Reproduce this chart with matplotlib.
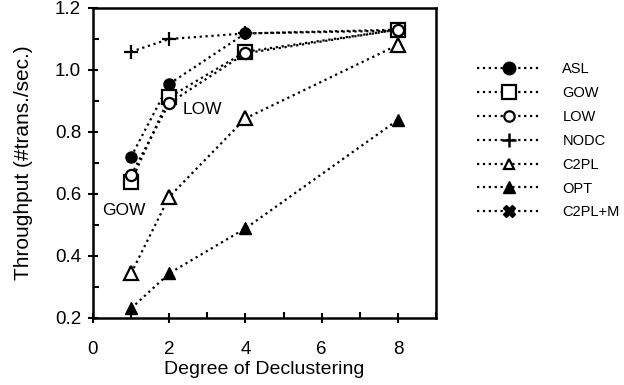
import matplotlib
matplotlib.use("Agg")
import matplotlib.pyplot as plt
from matplotlib.ticker import MultipleLocator, FormatStrFormatter
from matplotlib.lines import Line2D

plt.rcParams['font.family'] = ['Liberation Sans', 'DejaVu Sans']

degree = [1, 2, 4, 8]
asl = [0.72, 0.955, 1.118, 1.127]
gow = [0.64, 0.912, 1.059, 1.13]
low = [0.661, 0.893, 1.054, 1.13]
nodc = [1.059, 1.10, 1.118, 1.13]
c2pl = [0.344, 0.591, 0.844, 1.081]
opt = [0.231, 0.344, 0.489, 0.839]
c2plm = []
labels = ['ASL', 'GOW', 'LOW', 'NODC', 'C2PL', 'OPT', 'C2PL+M']

fig = plt.figure(figsize=(6.24, 3.85), dpi=100)
ax = fig.add_axes([93/624, 1 - 318/385, (436 - 93)/624, (318 - 8)/385])

ls = dict(color='black', linestyle=':', linewidth=1.6)
ax.plot(degree, nodc, marker='+', markersize=10, markeredgewidth=1.6, **ls)
ax.plot(degree, asl, marker='o', markersize=8, markerfacecolor='black', markeredgecolor='black', **ls)
ax.plot(degree, gow, marker='s', markersize=10, markerfacecolor='white', markeredgecolor='black', markeredgewidth=1.6, **ls)
ax.plot(degree, low, marker='o', markersize=8, markerfacecolor='white', markeredgecolor='black', markeredgewidth=1.6, **ls)
ax.plot(degree, c2pl, marker='^', markersize=10, markerfacecolor='white', markeredgecolor='black', markeredgewidth=1.6, **ls)
ax.plot(degree, opt, marker='^', markersize=9, markerfacecolor='black', markeredgecolor='black', **ls)

ax.text(2.35, 0.872, 'LOW', fontsize=12.5, ha='left', va='center')
ax.text(0.82, 0.548, 'GOW', fontsize=12.5, ha='center', va='center')

ax.set_xlim(0, 9)
ax.set_ylim(0.2, 1.2)
ax.xaxis.set_major_locator(MultipleLocator(2))
ax.xaxis.set_minor_locator(MultipleLocator(1))
ax.yaxis.set_major_locator(MultipleLocator(0.2))
ax.yaxis.set_minor_locator(MultipleLocator(0.1))
ax.yaxis.set_major_formatter(FormatStrFormatter('%.1f'))
ax.tick_params(which='major', direction='inout', length=7, width=1.5, labelsize=13.5)
ax.tick_params(which='minor', direction='in', length=4, width=1.5)
ax.tick_params(axis='x', which='major', pad=13)
ax.tick_params(axis='y', which='major', pad=5)
for s in ax.spines.values():
    s.set_linewidth(1.8)

ax.set_xlabel('Degree of Declustering', fontsize=14, labelpad=2)
ax.set_ylabel('Throughput (#trans./sec.)', fontsize=15, labelpad=16)

h = [
    Line2D([], [], marker='o', markersize=9, markerfacecolor='black', markeredgecolor='black', **ls),
    Line2D([], [], marker='s', markersize=10, markerfacecolor='white', markeredgecolor='black', markeredgewidth=1.6, **ls),
    Line2D([], [], marker='o', markersize=7.5, markerfacecolor='white', markeredgecolor='black', markeredgewidth=1.6, **ls),
    Line2D([], [], marker='+', markersize=10, markeredgewidth=1.8, **ls),
    Line2D([], [], marker='^', markersize=7, markerfacecolor='white', markeredgecolor='black', markeredgewidth=1.6, **ls),
    Line2D([], [], marker='^', markersize=8, markerfacecolor='black', markeredgecolor='black', **ls),
    Line2D(c2plm, c2plm, marker='X', markersize=8, markerfacecolor='black', markeredgecolor='black', **ls),
]
fig.legend(h, labels, loc='upper left', bbox_to_anchor=(477/624, 1 - 62/385),
           frameon=False, fontsize=10.5, handlelength=4.4, handletextpad=1.45,
           labelspacing=0.68, borderpad=0, borderaxespad=0)

fig.savefig('out.png', dpi=100)
